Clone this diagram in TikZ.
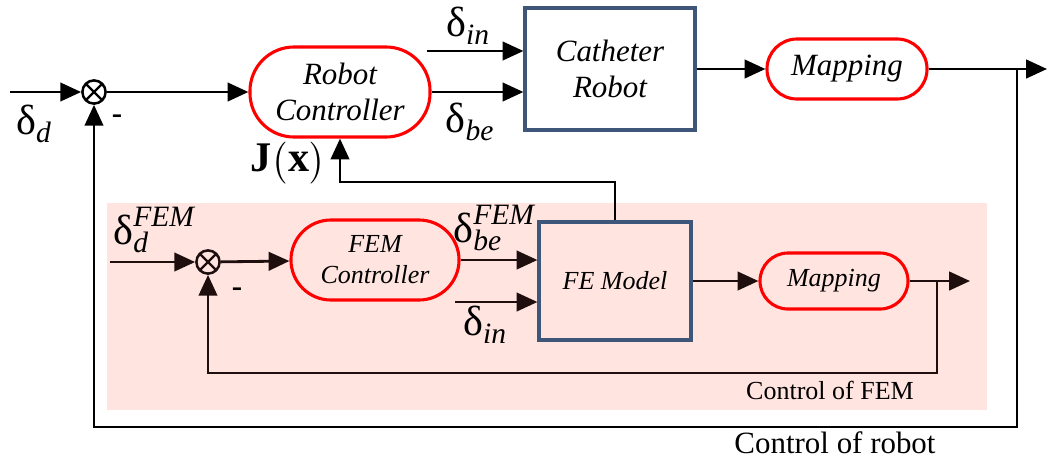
\documentclass[tikz,border=0pt]{standalone}
\usepackage{amsmath}
\usepackage{fontspec}
\setmainfont{Liberation Serif}
\usetikzlibrary{arrows.meta}
\definecolor{boxblue}{RGB}{62,86,122}
\definecolor{fempink}{RGB}{255,228,224}
\definecolor{femline}{RGB}{30,14,14}
\newcommand{\dl}{\text{\upshape δ}}
\newcommand{\sub}[1]{\text{\itshape #1}}
\tikzset{
  arr/.style={line width=2pt,-{Triangle[length=5.2mm,width=4.6mm]}},
  ctrl/.style={draw=red,line width=2.2pt,align=center,inner sep=0pt},
  blockbox/.style={draw=boxblue,line width=2.2pt,align=center,inner sep=0pt},
  sumnode/.style={circle,draw,line width=1.8pt,minimum size=0.58cm,inner sep=0pt,
    path picture={\draw[line width=1.6pt] (path picture bounding box.north west) -- (path picture bounding box.south east)
      (path picture bounding box.north east) -- (path picture bounding box.south west);}},
  topfont/.style={font=\fontsize{22}{26}\selectfont\itshape},
  lowfont/.style={font=\fontsize{18.5}{22}\selectfont\itshape},
  sig/.style={font=\fontsize{30}{34}\selectfont}
}
\begin{document}
\begin{tikzpicture}[x=0.025cm,y=-0.025cm]
		\useasboundingbox (0,0) rectangle (1049,463);
		\fill[fempink] (107,203) rectangle (987,410);
		% robot loop
		\node[sumnode] (s1) at (94,92) {};
		\coordinate (in1) at (10,92);
		\node[ctrl,topfont,minimum width=4.5cm,minimum height=2.25cm,rounded corners=1.1cm] (rc) at (340,92) {Robot\\Controller};
		\node[blockbox,topfont,minimum width=4.25cm,minimum height=3.05cm] (cr) at (610,69) {Catheter\\Robot};
		\node[ctrl,topfont,minimum width=4cm,minimum height=1.5cm,rounded corners=0.75cm] (map1) at (847,69) {Mapping};
		\coordinate (din1) at (427,51);
		\coordinate (out1) at (1047,69);
		\coordinate (fb1) at (1017,69);
		\coordinate (fb1c) at (1017,427);
		\draw[arr] (in1) -- (s1);
		\draw[arr] (s1) -- (rc);
		\draw[arr] (din1) -- (din1 -| cr.west);
		\draw[arr] (rc.east) -- (rc.east -| cr.west);
		\draw[arr] (cr.east) -- (map1);
		\draw[arr] (map1.east) -- (out1);
		\draw[arr] (fb1) -- (fb1c) -| (s1.south);
		% FEM loop
		\node[sumnode,draw=femline] (s2) at (208,262) {};
		\coordinate (in2) at (110,262);
		\node[ctrl,lowfont,minimum width=4.2cm,minimum height=2cm,rounded corners=1cm] (fc) at (375,260) {FEM\\Controller};
		\node[blockbox,lowfont,minimum width=3.8cm,minimum height=2.95cm] (fe) at (615,281) {FE Model};
		\node[ctrl,lowfont,minimum width=3.7cm,minimum height=1.4cm,rounded corners=0.7cm] (map2) at (834,281) {Mapping};
		\coordinate (din2) at (455,302);
		\coordinate (out2) at (970,281);
		\coordinate (fb2) at (937,281);
		\coordinate (fb2c) at (937,373);
		\coordinate (jx) at (340,182);
		\begin{scope}[femline]
		\draw[arr] (in2) -- (s2);
		\draw[arr] (s2) -- (fc);
		\draw[arr] (fc.east) -- (fc.east -| fe.west);
		\draw[arr] (din2) -- (din2 -| fe.west);
		\draw[arr] (fe.east) -- (map2);
		\draw[arr] (map2.east) -- (out2);
		\draw[arr] (fb2) -- (fb2c) -| (s2.south);
		\end{scope}
		\draw[arr] (fe.north) |- (jx) -- (rc.south);
		% labels
		\foreach \x/\y in {117/119,237/292} \node[font=\fontsize{22}{24}\selectfont\bfseries] at (\x,\y) {-};
		\node[sig] (ld1) at (34,124) {$\dl_{\sub{d}}$};
		\node[sig] (lin1) at (468,26) {$\dl_{\sub{in}}$};
		\node[sig] (lbe1) at (470,122) {$\dl_{\sub{be}}$};
		\node[font=\fontsize{30}{34}\selectfont,inner sep=0pt] (ljx) at (288,163) {$\mathbf{J}\bigl(\mathbf{x}\bigr)$};
		\node[sig] (ld2) at (154,230) {$\dl_{\sub{d}}^{\sub{FEM}}$};
		\node[sig] (lbe2) at (494,228) {$\dl_{\sub{be}}^{\sub{FEM}}$};
		\node[sig] (lin2) at (485,325) {$\dl_{\sub{in}}$};
		\node[font=\fontsize{18.5}{22}\selectfont] (lfem) at (830,390) {Control of FEM};
		\node[font=\fontsize{22}{26}\selectfont] (lrob) at (835,443) {Control of robot};
	\end{tikzpicture}
\end{document}
